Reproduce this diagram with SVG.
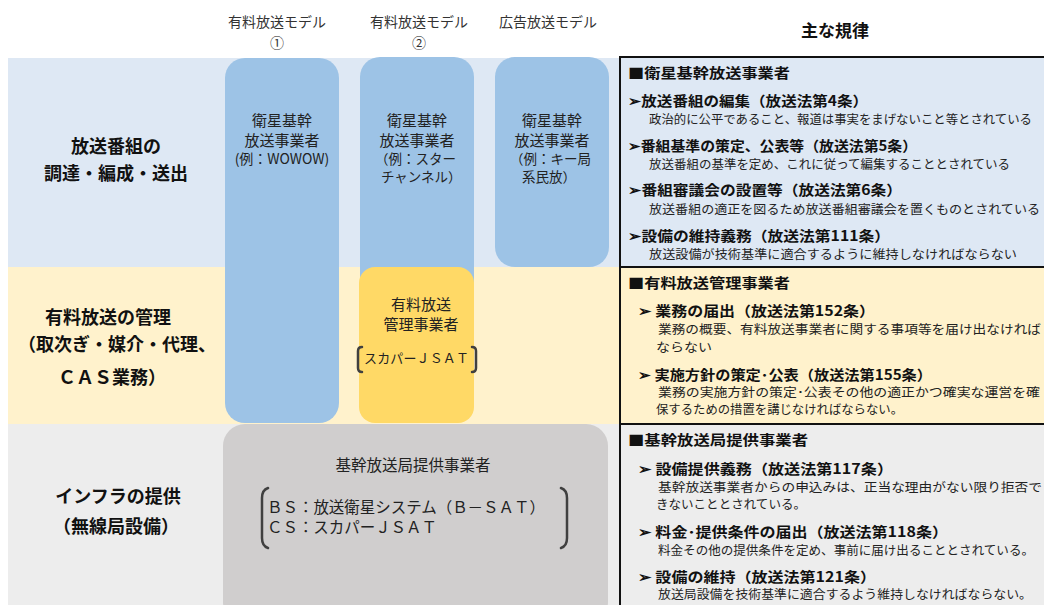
<svg xmlns="http://www.w3.org/2000/svg" width="1044" height="605" viewBox="0 0 1044 605">
<style>
text{font-family:"Noto Sans CJK JP","Noto Sans",sans-serif;fill:#1a1a1a}
.hdr{font-size:14px;fill:#333;text-anchor:middle}
.lbl{font-size:18px;font-weight:bold;text-anchor:middle;fill:#111}
.nt{font-size:15px;text-anchor:middle;fill:#222}
.ex{font-size:13.5px;fill:#222}
.h{font-size:14px;font-weight:bold;fill:#111}
.b{font-size:12.5px;fill:#222}
.brk{fill:none;stroke:#404040;stroke-width:2.5;stroke-linecap:round}
</style>
<g id="bands">
<rect x="8" y="58" width="612" height="209" fill="#DEE8F4"/>
<rect x="8" y="267" width="612" height="157" fill="#FFF2CC"/>
<rect x="8" y="424" width="612" height="181" fill="#EDEDED"/>
</g>
<g id="headers">
<text class="hdr" x="277" y="27">有料放送モデル</text>
<text class="hdr" x="277" y="48">①</text>
<text class="hdr" x="419" y="27">有料放送モデル</text>
<text class="hdr" x="419" y="48">②</text>
<text class="hdr" x="548" y="27">広告放送モデル</text>
<text x="835" y="37" style="font-size:17px;font-weight:bold;text-anchor:middle;fill:#111">主な規律</text>
</g>
<g id="row-labels">
<text class="lbl" x="116" y="153">放送番組の</text>
<text class="lbl" x="116" y="180">調達・編成・送出</text>
<text class="lbl" x="108" y="324">有料放送の管理</text>
<text class="lbl" x="117" y="351">（取次ぎ・媒介・代理、</text>
<text class="lbl" x="112" y="384">ＣＡＳ業務）</text>
<text class="lbl" x="118" y="503">インフラの提供</text>
<text class="lbl" x="116" y="533">（無線局設備）</text>
</g>
<g id="node-pay1">
<rect x="225" y="58" width="114" height="365" rx="20" fill="#9DC3E6"/>
<text class="nt" x="282" y="126">衛星基幹</text>
<text class="nt" x="282" y="146">放送事業者</text>
<text class="nt" x="282" y="164" style="font-size:14px">(例：WOWOW)</text>
</g>
<g id="node-pay2">
<rect x="360" y="57" width="114" height="260" rx="20" fill="#9DC3E6"/>
<text class="nt" x="417" y="126">衛星基幹</text>
<text class="nt" x="417" y="146">放送事業者</text>
<text class="ex" x="375" y="164">（例：スター</text>
<text class="ex" x="381" y="182">チャンネル）</text>
</g>
<g id="node-ad">
<rect x="495" y="57" width="114" height="210" rx="20" fill="#9DC3E6"/>
<text class="nt" x="552" y="126">衛星基幹</text>
<text class="nt" x="552" y="146">放送事業者</text>
<text class="ex" x="510" y="164">（例：キー局</text>
<text class="ex" x="522" y="182">系民放）</text>
</g>
<g id="node-mgmt">
<rect x="359" y="267" width="115" height="156" rx="16" fill="#FFD966"/>
<text class="nt" x="421" y="310">有料放送</text>
<text class="nt" x="421" y="330">管理事業者</text>
<path class="brk" d="M362 347 Q358 347 358 351 L358 368 Q358 372 362 372"/>
<path class="brk" d="M472 347 Q476 347 476 351 L476 368 Q476 372 472 372"/>
<text x="364" y="363" textLength="105" style="font-size:13px;fill:#222">スカパーＪＳＡＴ</text>
</g>
<g id="node-infra">
<rect x="223" y="424" width="385" height="200" rx="22" fill="#D0CECE"/>
<text class="nt" x="413" y="471" style="font-size:15.5px">基幹放送局提供事業者</text>
<path class="brk" d="M268 488 Q262 490 262 498 L262 538 Q262 546 268 548"/>
<path class="brk" d="M561 488 Q567 490 567 498 L567 538 Q567 546 561 548"/>
<text x="267" y="513" textLength="278" style="font-size:15.5px;fill:#222">ＢＳ：放送衛星システム（Ｂ－ＳＡＴ）</text>
<text x="267" y="533" textLength="170" style="font-size:15.5px;fill:#222">ＣＳ：スカパーＪＳＡＴ</text>
</g>
<g id="rules-broadcaster">
<rect x="620" y="57" width="430" height="210" fill="#DEE8F4" stroke="#111" stroke-width="2"/>
<text class="h" x="628" y="78" textLength="162" lengthAdjust="spacingAndGlyphs">■衛星基幹放送事業者</text>
<text class="h" x="628" y="106" textLength="240" lengthAdjust="spacingAndGlyphs">➢放送番組の編集（放送法第4条）</text>
<text class="b" x="649" y="124" textLength="383" lengthAdjust="spacingAndGlyphs">政治的に公平であること、報道は事実をまげないこと等とされている</text>
<text class="h" x="628" y="151" textLength="289" lengthAdjust="spacingAndGlyphs">➢番組基準の策定、公表等（放送法第5条）</text>
<text class="b" x="649" y="169" textLength="361" lengthAdjust="spacingAndGlyphs">放送番組の基準を定め、これに従って編集することとされている</text>
<text class="h" x="628" y="195" textLength="274" lengthAdjust="spacingAndGlyphs">➢番組審議会の設置等（放送法第6条）</text>
<text class="b" x="649" y="214" textLength="391" lengthAdjust="spacingAndGlyphs">放送番組の適正を図るため放送番組審議会を置くものとされている</text>
<text class="h" x="628" y="241" textLength="262" lengthAdjust="spacingAndGlyphs">➢設備の維持義務（放送法第111条）</text>
<text class="b" x="649" y="259" textLength="368" lengthAdjust="spacingAndGlyphs">放送設備が技術基準に適合するように維持しなければならない</text>
</g>
<g id="rules-mgmt">
<rect x="620" y="267" width="430" height="157" fill="#FFF2CC" stroke="#111" stroke-width="2"/>
<text class="h" x="628" y="288" textLength="162" lengthAdjust="spacingAndGlyphs">■有料放送管理事業者</text>
<text class="h" x="638" y="316" textLength="237" lengthAdjust="spacingAndGlyphs">➢ 業務の届出（放送法第152条）</text>
<text class="b" x="658" y="334" textLength="383" lengthAdjust="spacingAndGlyphs">業務の概要、有料放送事業者に関する事項等を届け出なければ</text>
<text class="b" x="656" y="352" textLength="56" lengthAdjust="spacingAndGlyphs">ならない</text>
<text class="h" x="638" y="380" textLength="294" lengthAdjust="spacingAndGlyphs">➢ 実施方針の策定･公表（放送法第155条）</text>
<text class="b" x="658" y="397" textLength="382" lengthAdjust="spacingAndGlyphs">業務の実施方針の策定･公表その他の適正かつ確実な運営を確</text>
<text class="b" x="656" y="414" textLength="247" lengthAdjust="spacingAndGlyphs">保するための措置を講じなければならない。</text>
</g>
<g id="rules-infra">
<rect x="620" y="424" width="430" height="190" fill="#EDEDED" stroke="#111" stroke-width="2"/>
<text class="h" x="628" y="445" textLength="180" lengthAdjust="spacingAndGlyphs">■基幹放送局提供事業者</text>
<text class="h" x="638" y="474" textLength="255" lengthAdjust="spacingAndGlyphs">➢ 設備提供義務（放送法第117条）</text>
<text class="b" x="658" y="492" textLength="384" lengthAdjust="spacingAndGlyphs">基幹放送事業者からの申込みは、正当な理由がない限り拒否で</text>
<text class="b" x="656" y="509" textLength="150" lengthAdjust="spacingAndGlyphs">きないこととされている。</text>
<text class="h" x="638" y="537" textLength="310" lengthAdjust="spacingAndGlyphs">➢ 料金･提供条件の届出（放送法第118条）</text>
<text class="b" x="658" y="555" textLength="376" lengthAdjust="spacingAndGlyphs">料金その他の提供条件を定め、事前に届け出ることとされている。</text>
<text class="h" x="638" y="582" textLength="238" lengthAdjust="spacingAndGlyphs">➢ 設備の維持（放送法第121条）</text>
<text class="b" x="658" y="599" textLength="374" lengthAdjust="spacingAndGlyphs">放送局設備を技術基準に適合するよう維持しなければならない。</text>
</g>
</svg>
